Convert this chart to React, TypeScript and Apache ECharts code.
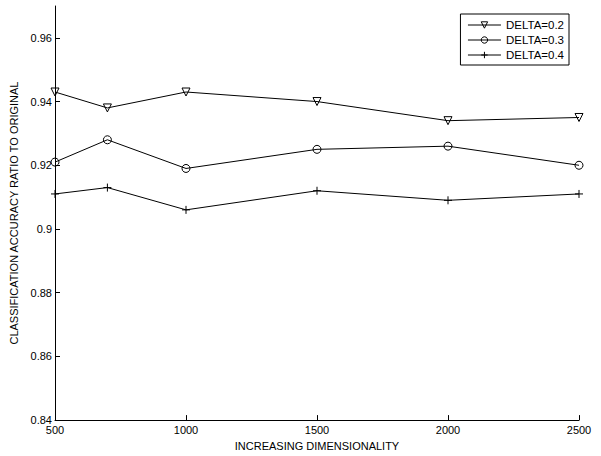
import React, { useEffect, useRef } from "react";
import * as echarts from "echarts";

// Dimensionality values on the x axis
const dimensions = [500, 700, 1000, 1500, 2000, 2500];

// Classification accuracy ratio for each DELTA setting
const delta02 = [0.943, 0.938, 0.943, 0.94, 0.934, 0.935];
const delta03 = [0.921, 0.928, 0.919, 0.925, 0.926, 0.92];
const delta04 = [0.911, 0.913, 0.906, 0.912, 0.909, 0.911];

const seriesNames = ["DELTA=0.2", "DELTA=0.3", "DELTA=0.4"];

const yTicks = [0.84, 0.86, 0.88, 0.9, 0.92, 0.94, 0.96];
const xTicks = [500, 1000, 1500, 2000, 2500];

const FONT = "Liberation Sans, Arial, sans-serif";
const INK = "#000";

const pairs = (ys: number[]) => dimensions.map((x, i) => [x, ys[i]]);

export default function App() {
  const ref = useRef<HTMLDivElement>(null);

  useEffect(() => {
    if (!ref.current) return;
    const chart = echarts.init(ref.current, undefined, { renderer: "svg" });

    const markerStyle = {
      color: "rgba(0,0,0,0)",
      borderColor: INK,
      borderWidth: 1,
    };

    const base = {
      type: "line" as const,
      symbolSize: 8,
      lineStyle: { color: INK, width: 1 },
      itemStyle: markerStyle,
      emphasis: { disabled: true },
    };

    chart.setOption({
      animation: false,
      backgroundColor: "#fff",
      textStyle: { fontFamily: FONT },
      grid: { left: 55, right: 22, top: 6, bottom: 33, containLabel: false },
      legend: {
        orient: "vertical",
        right: 32,
        top: 14,
        itemWidth: 33,
        itemHeight: 8,
        itemGap: 3,
        padding: [5, 5, 4, 7],
        borderColor: INK,
        borderWidth: 1,
        backgroundColor: "#fff",
        borderRadius: 0,
        itemStyle: markerStyle,
        lineStyle: { color: INK, width: 1 },
        textStyle: { fontSize: 11.5, color: INK, fontFamily: FONT },
        data: seriesNames,
      },
      xAxis: {
        type: "value",
        min: 500,
        max: 2500,
        interval: 500,
        name: "INCREASING DIMENSIONALITY",
        nameLocation: "middle",
        nameGap: 18,
        nameTextStyle: { fontSize: 11, color: INK, fontFamily: FONT },
        splitLine: { show: false },
        axisLine: { lineStyle: { color: INK, width: 1 } },
        axisTick: {
          inside: true,
          length: 5,
          lineStyle: { color: INK },
          customValues: xTicks,
        },
        axisLabel: {
          fontSize: 11,
          color: INK,
          margin: 4,
          fontFamily: FONT,
          customValues: xTicks,
          formatter: (v: number) => String(v),
        },
      },
      yAxis: {
        type: "value",
        min: 0.84,
        max: 0.97,
        interval: 0.02,
        name: "CLASSIFICATION ACCURACY RATIO TO ORIGINAL",
        nameLocation: "middle",
        nameGap: 30,
        nameTextStyle: { fontSize: 11, color: INK, fontFamily: FONT },
        splitLine: { show: false },
        axisLine: { show: true, lineStyle: { color: INK, width: 1 } },
        axisTick: {
          show: true,
          inside: true,
          length: 5,
          lineStyle: { color: INK },
          customValues: yTicks,
        },
        axisLabel: {
          fontSize: 11,
          color: INK,
          margin: 3,
          fontFamily: FONT,
          customValues: yTicks,
          formatter: (v: number) => String(parseFloat(v.toFixed(2))),
        },
      },
      series: [
        {
          ...base,
          name: seriesNames[0],
          symbol: "triangle",
          symbolRotate: 180,
          data: pairs(delta02),
        },
        {
          ...base,
          name: seriesNames[1],
          symbol: "circle",
          data: pairs(delta03),
        },
        {
          ...base,
          name: seriesNames[2],
          symbol: "path://M0,5L10,5M5,0L5,10",
          data: pairs(delta04),
        },
      ],
    });

    return () => chart.dispose();
  }, []);

  return (
    <div
      ref={ref}
      style={{ position: "fixed", left: 0, top: 0, width: 601, height: 456 }}
    />
  );
}
